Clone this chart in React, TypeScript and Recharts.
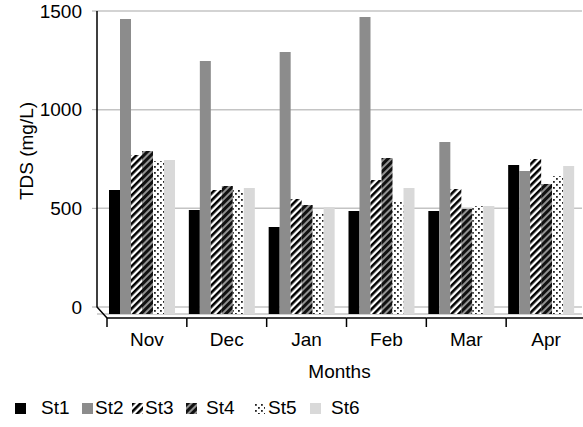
import React from "react";
import { BarChart, Bar, XAxis, YAxis, CartesianGrid, Legend, Label } from "recharts";

const months = ["Nov", "Dec", "Jan", "Feb", "Mar", "Apr"];
const st1 = [628, 527, 441, 522, 522, 755];
const st2 = [1495, 1282, 1328, 1505, 872, 725];
const st3 = [806, 628, 583, 679, 633, 785];
const st4 = [826, 649, 552, 791, 532, 659];
const st5 = [775, 628, 512, 568, 547, 699];
const st6 = [780, 639, 542, 639, 547, 750];
const stations = ["St1", "St2", "St3", "St4", "St5", "St6"];
const yTicks = [0, 500, 1000, 1500];

const fills = ["#000000", "#8c8c8c", "url(#st3)", "url(#st4)", "url(#st5)", "#d9d9d9"];

const data = months.map((m, i) => ({
  month: m,
  St1: st1[i],
  St2: st2[i],
  St3: st3[i],
  St4: st4[i],
  St5: st5[i],
  St6: st6[i],
}));

// layout (pseudo-3d: back wall sits 7px above the bar floor)
const W = 583;
const H = 427;
const PLOT_LEFT = 97;
const PLOT_TOP = 11;
const PLOT_BOTTOM = 314;
const PAD_LEFT = 6;
const BAND = (W - 1 - PLOT_LEFT - PAD_LEFT) / months.length;
const PX_PER = (307 - PLOT_TOP) / 1500;
const BACK_MIN = -(PLOT_BOTTOM - 307) / PX_PER;
const FRONT_MAX = (PLOT_BOTTOM - PLOT_TOP) / PX_PER;

const ICON_X = [15, 82, 132, 186, 254, 310];
const TEXT_X = [41, 95, 145, 206, 268, 331];

function MonthTick(props: any) {
  const { x, y, payload, index } = props;
  const left = x - BAND / 2 + 4;
  return (
    <g>
      <line x1={left} x2={left + BAND} y1={y + 4} y2={y + 4} stroke="#000" strokeWidth={1.5} />
      <line x1={left} x2={left} y1={y + 4} y2={y + 13} stroke="#000" strokeWidth={1.5} />
      {index === 0 && (
        <polyline
          points={`${left - 10},${PLOT_TOP} ${left - 10},${y - 7} ${left},${y + 4}`}
          fill="none"
          stroke="#000"
          strokeWidth={1.5}
        />
      )}
      <text x={x + 4} y={y + 32} textAnchor="middle" fontSize={19} fill="#000">
        {payload.value}
      </text>
    </g>
  );
}

function StationLegend() {
  return (
    <div style={{ position: "relative", width: W, height: 20, fontSize: 19 }}>
      {stations.map((s, i) => (
        <React.Fragment key={s}>
          <svg
            style={{ position: "absolute", left: ICON_X[i], top: 5 }}
            width={11}
            height={11}
          >
            <rect width={11} height={11} fill={fills[i]} />
          </svg>
          <span style={{ position: "absolute", left: TEXT_X[i], top: 0, lineHeight: "20px", color: "#000" }}>
            {s}
          </span>
        </React.Fragment>
      ))}
    </div>
  );
}

export default function App() {
  return (
    <div
      style={{
        position: "absolute",
        left: 0,
        top: 0,
        width: W,
        height: H,
        background: "#fff",
        fontFamily: "'Liberation Sans', Arial, sans-serif",
      }}
    >
      <BarChart
        width={W}
        height={H}
        data={data}
        margin={{ top: PLOT_TOP, right: 1, left: 0, bottom: 0 }}
        barCategoryGap={6}
        barGap={0}
      >
        <defs>
          <pattern id="st3" width={5} height={5} patternUnits="userSpaceOnUse" patternTransform="rotate(45)">
            <rect width={5} height={5} fill="#fff" />
            <rect width={2.6} height={5} fill="#000" />
          </pattern>
          <pattern id="st4" width={5} height={5} patternUnits="userSpaceOnUse" patternTransform="rotate(45)">
            <rect width={5} height={5} fill="#111" />
            <rect x={3.3} width={1.5} height={5} fill="#bbb" />
          </pattern>
          <pattern id="st5" width={6} height={6} patternUnits="userSpaceOnUse">
            <rect width={6} height={6} fill="#fff" />
            <rect x={1} y={1} width={1.8} height={1.8} fill="#222" />
            <rect x={4} y={4} width={1.8} height={1.8} fill="#222" />
          </pattern>
        </defs>
        <CartesianGrid yAxisId="back" vertical={false} stroke="#c4c4c4" strokeWidth={1.5} />
        <XAxis
          dataKey="month"
          padding={{ left: PAD_LEFT, right: 0 }}
          height={H - PLOT_BOTTOM}
          axisLine={false}
          tickLine={false}
          tickSize={0}
          tickMargin={0}
          interval={0}
          tick={<MonthTick />}
          label={{ value: "Months", position: "insideTop", offset: 51, fill: "#000", fontSize: 19 }}
        />
        <YAxis
          yAxisId="back"
          width={PLOT_LEFT}
          type="number"
          domain={[BACK_MIN, 1500]}
          allowDataOverflow
          ticks={yTicks}
          axisLine={false}
          tickLine={{ stroke: "#aaa" }}
          tickSize={5}
          tickMargin={10}
          tick={{ fill: "#000", fontSize: 19 }}
        >
          <Label
            content={() => (
              <text transform="translate(33,151) rotate(-90)" textAnchor="middle" fontSize={19} fill="#000">
                TDS (mg/L)
              </text>
            )}
          />
        </YAxis>
        <YAxis yAxisId="front" hide type="number" domain={[0, FRONT_MAX]} allowDataOverflow />
        {stations.map((s, i) => (
          <Bar key={s} yAxisId="front" dataKey={s} fill={fills[i]} isAnimationActive={false} />
        ))}
        <Legend
          layout="horizontal"
          verticalAlign="middle"
          align="center"
          content={() => <StationLegend />}
          wrapperStyle={{ position: "absolute", left: 0, top: 398, width: W, height: 20 }}
        />
      </BarChart>
    </div>
  );
}
